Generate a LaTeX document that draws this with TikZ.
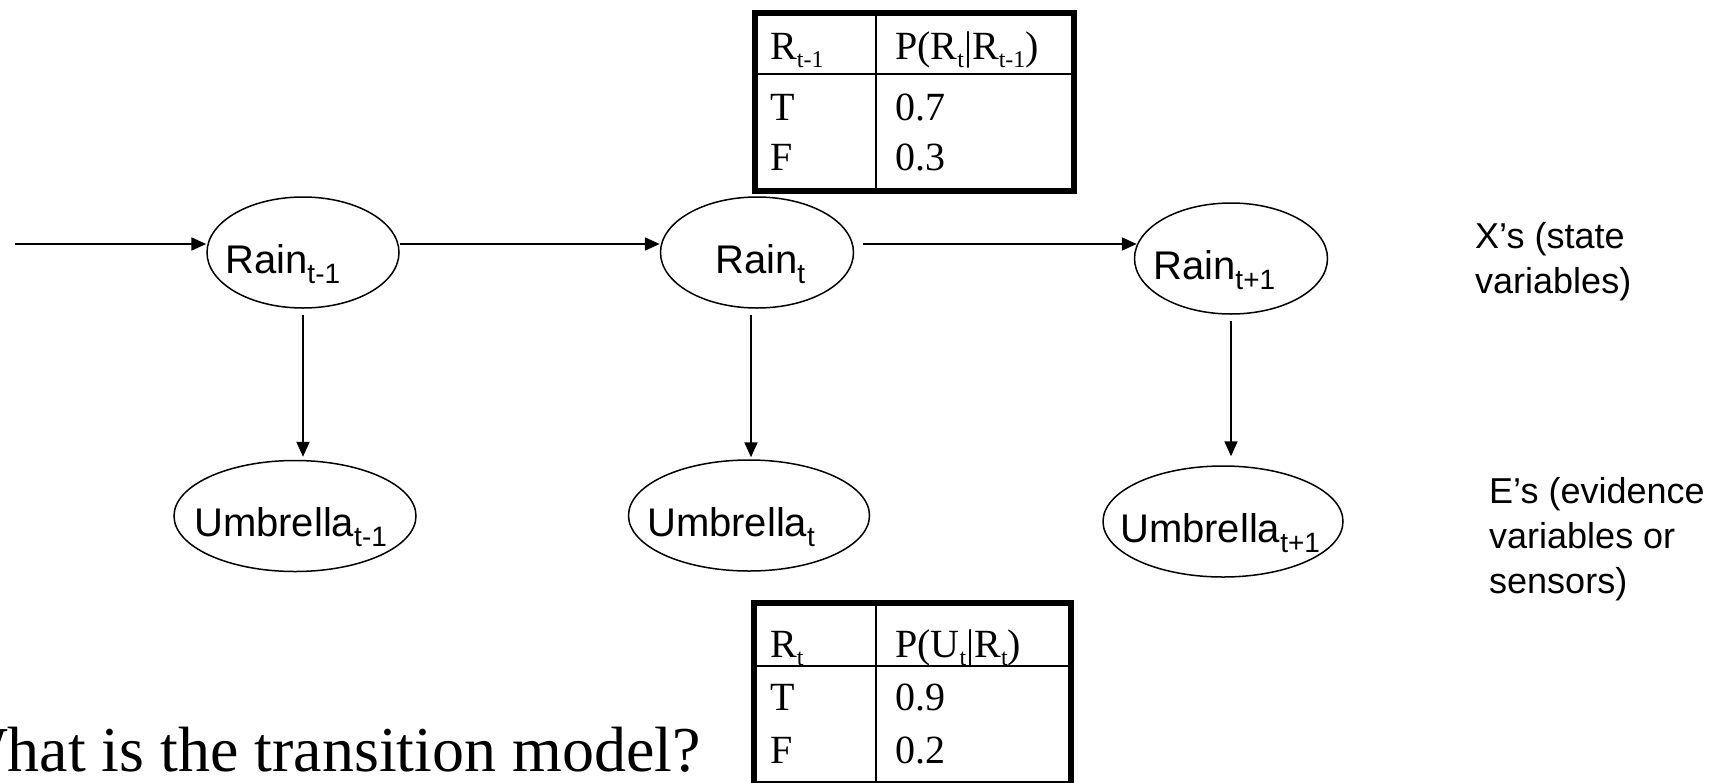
\documentclass[tikz,border=0pt]{standalone}
\usepackage{fontspec}
\usepackage{graphicx}
\setmainfont{Liberation Serif}
\newfontfamily\arialfont{Liberation Sans}
\usetikzlibrary{arrows.meta,shapes.geometric,calc}

\newcommand{\subidx}[1]{\raisebox{-.25em}{\scalebox{.7}{#1}}}
\newcommand{\tabidx}[1]{\raisebox{-.2em}{\scalebox{.6}{#1}}}

\begin{document}
\begin{tikzpicture}[x=1pt, y=-1pt,
	state/.style={draw, ellipse, line width=1.5pt, minimum height=111pt},
	lbl/.style={anchor=base west, inner sep=0pt, font=\arialfont\fontsize{40}{48}\selectfont},
	side/.style={anchor=base west, inner sep=0pt, align=left, font=\arialfont\fontsize{36}{45}\selectfont},
	cell/.style={anchor=base west, inner sep=0pt, font=\fontsize{40}{48}\selectfont},
	arr/.style={-{Triangle[length=15pt,width=13pt]}, line width=2pt},
	rule/.style={line width=2pt},
	frame/.style={line width=6pt}]

	\useasboundingbox (0,0) rectangle (1735,782);

	\node[state, minimum width=192pt] (rm1) at (303,252.5) {};
	\node[state, minimum width=193pt] (r0) at (757,252.5) {};
	\node[state, minimum width=193pt] (rp1) at (1231,258.5) {};
	\node[state, minimum width=242pt] (um1) at (295,516) {};
	\node[state, minimum width=241pt] (u0) at (749,515.5) {};
	\node[state, minimum width=240pt] (up1) at (1223,521.5) {};

	\node[lbl] (rm1l) at (225,273) {Rain\subidx{t-1}};
	\node[lbl] (r0l) at (715,273) {Rain\subidx{t}};
	\node[lbl] (rp1l) at (1153,279) {Rain\subidx{t+1}};
	\node[lbl] (um1l) at (194,536) {Umbrella\subidx{t-1}};
	\node[lbl] (u0l) at (647,536) {Umbrella\subidx{t}};
	\node[lbl] (up1l) at (1120,542) {Umbrella\subidx{t+1}};

	\coordinate (in) at (15,244);
	\draw[arr] (in) -- (in -| rm1.west);
	\draw[arr] ([yshift=8.5pt]rm1.east) -- ([yshift=8.5pt]r0.west);
	\draw[arr] ([xshift=9pt,yshift=8.5pt]r0.east) -- ([xshift=3pt,yshift=14.5pt]rp1.west);

	\draw[arr] ($(rm1.south)+(0,6)$) -- ($(rm1.south |- um1.north)+(0,-3)$);
	\draw[arr] ($(r0.south)+(-6,6)$) -- ($(r0.south |- u0.north)+(-6,-2)$);
	\draw[arr] ($(rp1.south)+(0,6)$) -- ($(rp1.south |- up1.north)+(0,-9)$);

	\node[side] (xs) at (1475,293) {X’s (state\\variables)};
	\node[side] (es) at (1489,593) {E’s (evidence\\variables or\\sensors)};

	\draw[rule] (754.5,74) -- (1074,74);
	\draw[rule] (876,12.5) -- (876,191);
	\draw[frame] (754.5,12.5) rectangle (1074,191);
	\node[cell] (tr) at (770,59) {R\tabidx{t-1}};
	\node[cell] (tp) at (895,59) {P(R\tabidx{t}|R\tabidx{t-1})};
	\node[cell] (tt) at (770,120) {T};
	\node[cell] (tt7) at (895,120) {0.7};
	\node[cell] (tf) at (770,170) {F};
	\node[cell] (tf3) at (895,170) {0.3};

	\draw[rule] (754,666) -- (1071,666);
	\draw[rule] (876,602.5) -- (876,784);
	\draw[frame] (754,602.5) rectangle (1071,784);
	\node[cell] (ur) at (770,657) {R\tabidx{t}};
	\node[cell] (up) at (895,657) {P(U\tabidx{t}|R\tabidx{t})};
	\node[cell] (ut) at (770,710) {T};
	\node[cell] (ut9) at (895,710) {0.9};
	\node[cell] (uf) at (770,763) {F};
	\node[cell] (uf2) at (895,763) {0.2};

	\node[anchor=base west, inner sep=0pt, font=\fontsize{64}{72}\selectfont] (q) at (-53,771) {What is the transition model?};
\end{tikzpicture}
\end{document}
